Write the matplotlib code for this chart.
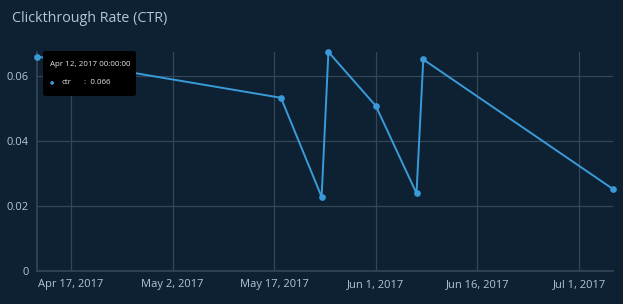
import pandas as pd
import matplotlib.pyplot as plt
import matplotlib.dates as mdates
from matplotlib.patches import FancyBboxPatch

plt.rcParams["font.family"] = ["Open Sans", "DejaVu Sans"]

# CTR values
dates = ["2017-04-12", "2017-05-18", "2017-05-24", "2017-05-25",
         "2017-06-01", "2017-06-07", "2017-06-08", "2017-07-06"]
ctr = [0.066, 0.0533, 0.0228, 0.0674, 0.0508, 0.0239, 0.0651, 0.0252]
x_ticks = ["2017-04-17", "2017-05-02", "2017-05-17", "2017-06-01", "2017-06-16", "2017-07-01"]
y_ticks = [0, 0.02, 0.04, 0.06]

dates = pd.to_datetime(dates)
bg = "#0d2133"
grid_c = "#34475a"
text_c = "#b3c5d6"
line_c = "#3b9ad9"

fig = plt.figure(figsize=(6.23, 3.04), dpi=100, facecolor=bg)
ax = fig.add_axes([0.0594, 0.1086, 0.9246, 0.7204], facecolor=bg)

ax.plot(dates, ctr, color=line_c, lw=1.4, marker="o", ms=3.8, clip_on=False, zorder=3)

ax.set_xlim(dates[0], dates[-1])
ax.set_ylim(0, 0.0674)
ax.set_xticks(pd.to_datetime(x_ticks))
ax.xaxis.set_major_formatter(mdates.DateFormatter("%b %-d, %Y"))
ax.set_yticks(y_ticks)
ax.set_yticklabels(["0", "0.02", "0.04", "0.06"])
ax.tick_params(colors=text_c, labelsize=8, length=0, pad=6)
ax.grid(color=grid_c, lw=0.9)
for s in ["top", "right"]:
    ax.spines[s].set_visible(False)
for s in ["left", "bottom"]:
    ax.spines[s].set_color(grid_c)
    ax.spines[s].set_linewidth(1.2)

fig.text(12 / 623, 1 - 18 / 304, "Clickthrough Rate (CTR)", color=text_c,
         fontsize=10.3, va="center", ha="left")

# hover tooltip
box = FancyBboxPatch((43 / 623, 1 - 96 / 304), 93 / 623, 45 / 304,
                     boxstyle="round,pad=0,rounding_size=0.006",
                     transform=fig.transFigure, facecolor="#000000",
                     edgecolor="none", zorder=5)
fig.patches.append(box)
fig.text(50 / 623, 1 - 65 / 304, "Apr 12, 2017 00:00:00", color="#e0e6ec",
         fontsize=5.8, va="center", zorder=6)
fig.text(49.5 / 623, 1 - 82 / 304, "\u25CF", color=line_c, fontsize=3.5, va="center", zorder=6)
fig.text(62 / 623, 1 - 82 / 304, "ctr", color="#e0e6ec", fontsize=5.8, va="center", zorder=6)
fig.text(84 / 623, 1 - 82 / 304, ":  0.066", color="#e0e6ec", fontsize=5.8, va="center", zorder=6)

fig.savefig("out.png", dpi=100, facecolor=bg)
